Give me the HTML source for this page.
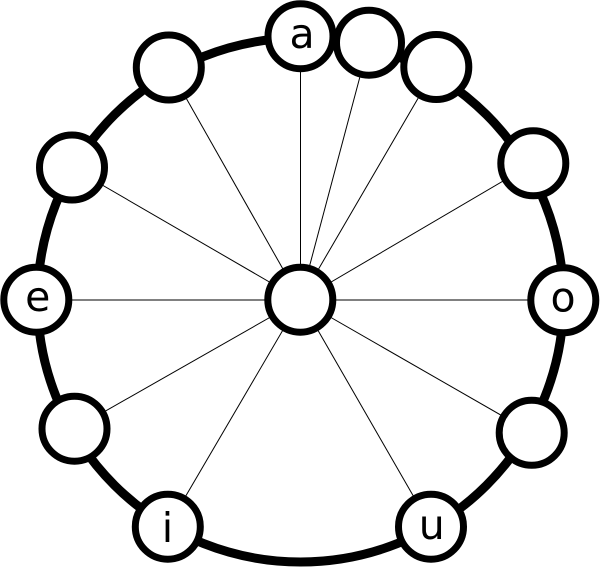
<!DOCTYPE html>
<html>
<head>
<meta charset="utf-8">
<style>
html,body{margin:0;padding:0;background:#fff;}
svg{display:block;}
text{font-family:"DejaVu Sans",sans-serif;font-size:41px;fill:#000;text-anchor:middle;}
</style>
</head>
<body>
<svg width="600" height="567" viewBox="0 0 600 567" xmlns="http://www.w3.org/2000/svg">
<rect width="600" height="567" fill="#fff"/>
<ellipse cx="300.5" cy="300" rx="263" ry="262" fill="none" stroke="#000" stroke-width="9"/>
<g stroke="#000" stroke-width="1" fill="none">
<line x1="300.5" y1="300" x2="300.5" y2="36"/>
<line x1="300.5" y1="300" x2="369" y2="42.7"/>
<line x1="300.5" y1="300" x2="436.3" y2="67"/>
<line x1="300.5" y1="300" x2="533.3" y2="163.3"/>
<line x1="300.5" y1="300" x2="563.3" y2="300"/>
<line x1="300.5" y1="300" x2="531.7" y2="432.8"/>
<line x1="300.5" y1="300" x2="431" y2="526.7"/>
<line x1="300.5" y1="300" x2="167.8" y2="526.7"/>
<line x1="300.5" y1="300" x2="74.5" y2="428.7"/>
<line x1="300.5" y1="300" x2="36.3" y2="300"/>
<line x1="300.5" y1="300" x2="72" y2="167.5"/>
<line x1="300.5" y1="300" x2="168.8" y2="67.5"/>
</g>
<g fill="#fff" stroke="#000" stroke-width="7">
<circle cx="300.5" cy="36.2" r="32.5"/>
<circle cx="369" cy="42.7" r="32.5"/>
<circle cx="436.3" cy="67" r="32.5"/>
<circle cx="533.3" cy="163.3" r="32.5"/>
<circle cx="563.3" cy="300.3" r="32.5"/>
<circle cx="531.7" cy="432.8" r="32.5"/>
<circle cx="431" cy="526.7" r="32.5"/>
<circle cx="167.8" cy="526.7" r="32.5"/>
<circle cx="74.5" cy="428.7" r="32.5"/>
<circle cx="36.3" cy="299.7" r="32.5"/>
<circle cx="72" cy="167.5" r="32.5"/>
<circle cx="168.8" cy="67.5" r="32.5"/>
<circle cx="300.3" cy="299.7" r="32.5"/>
</g>
<text x="302" y="48">a</text>
<text x="563" y="311.5">o</text>
<text x="431.7" y="539">u</text>
<text x="167.5" y="542">i</text>
<text x="37.7" y="311">e</text>
</svg>
</body>
</html>
